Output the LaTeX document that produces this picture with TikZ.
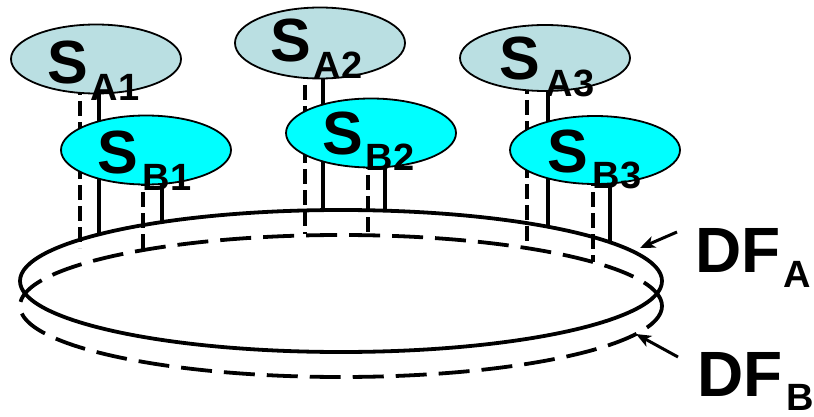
\documentclass[tikz,border=0pt]{standalone}
\usepackage{fontspec}
\setmainfont{Liberation Sans}
\usetikzlibrary{shapes.geometric,arrows.meta,calc}

\definecolor{paleteal}{HTML}{BADFE2}
\definecolor{brightcyan}{HTML}{00FFFF}

% heights of the two rings above a given x (pixel-like units, y grows downward)
\tikzset{
  declare function={
    ringAy(\t)=281-71*sqrt(1-((\t-341)/321)^2);
    ringBy(\t)=306-72*sqrt(1-((\t-341)/320)^2);
  },
  x=1pt, y=-1pt,
  sbase/.style={ellipse, draw, line width=1.8pt, inner sep=0pt,
                minimum width=170pt, minimum height=69pt},
  sA/.style={sbase, fill=paleteal},
  sB/.style={sbase, fill=brightcyan},
  ringsolid/.style={ellipse, draw, line width=3.8pt, inner sep=0pt,
                    minimum width=642pt, minimum height=142pt},
  ringdashed/.style={ringsolid, dash pattern=on 31pt off 12pt},
  link/.style={line width=3.8pt},
  dlink/.style={line width=3.8pt, dash pattern=on 15pt off 6pt},
  slab/.style={inner sep=0pt, anchor=base west,
               font=\fontsize{61}{61}\selectfont\bfseries},
  dflab/.style={inner sep=0pt, anchor=base west,
                font=\fontsize{64}{64}\selectfont\bfseries},
  pointer/.style={line width=3pt, -{Stealth[length=15pt,width=12pt,inset=4pt]}},
}
% subscript: text, gap before it, drop below the baseline
\newcommand\subtxt[3]{\kern#2\raisebox{-#3}{\fontsize{38}{38}\selectfont\bfseries #1}}

\begin{document}
\begin{tikzpicture}
\useasboundingbox (0,0) rectangle (814,417);

% the two rings
\node[ringdashed] (ringB) at (341,306) {};
\node[ringsolid]  (ringA) at (341,281) {};

% station centres
\path
  (96,59)   coordinate (cA1)
  (320,43)  coordinate (cA2)
  (545,58)  coordinate (cA3)
  (146,150) coordinate (cB1)
  (371,133) coordinate (cB2)
  (595,150) coordinate (cB3);

% drop points on the rings
\coordinate (dA1) at (80,248);
\coordinate (sA1) at (99,{ringAy(99)});
\coordinate (dB1) at (143,{ringBy(143)});
\coordinate (sB1) at (162,{ringAy(162)});
\coordinate (dA2) at (305,{ringBy(305)});
\coordinate (sA2) at (323,{ringAy(323)});
\coordinate (dB2) at (368,{ringBy(368)});
\coordinate (sB2) at (385,{ringAy(385)});
\coordinate (dA3) at (527,{ringBy(527)});
\coordinate (sA3) at (548,{ringAy(548)});
\coordinate (dB3) at (593,{ringBy(593)});
\coordinate (sB3) at (610,{ringAy(610)});

% drop lines from every station to the rings
\draw[dlink] (cA1 -| dA1) -- (dA1);
\draw[link]  (cA1 -| sA1) -- (sA1);
\draw[dlink] (cB1 -| dB1) -- (dB1);
\draw[link]  (cB1 -| sB1) -- (sB1);
\draw[dlink] (cA2 -| dA2) -- (dA2);
\draw[link]  (cA2 -| sA2) -- (sA2);
\draw[dlink] (cB2 -| dB2) -- (dB2);
\draw[link]  (cB2 -| sB2) -- (sB2);
\draw[dlink] (cA3 -| dA3) -- (dA3);
\draw[link]  (cA3 -| sA3) -- (sA3);
\draw[dlink] (cB3 -| dB3) -- (dB3);
\draw[link]  (cB3 -| sB3) -- (sB3);

% stations
\node[sA] (SA1) at (cA1) {};
\node[sA, minimum height=71pt] (SA2) at (cA2) {};
\node[sA, minimum height=66pt] (SA3) at (cA3) {};
\node[sB] (SB1) at (cB1) {};
\node[sB] (SB2) at (cB2) {};
\node[sB, minimum height=68pt] (SB3) at (cB3) {};

% station labels
\node[slab] (SA1t) at ($(SA1.center)+(-49,25)$) {S\subtxt{A1}{3pt}{17pt}};
\node[slab] (SA2t) at ($(SA2.center)+(-50,19)$) {S\subtxt{A2}{3pt}{17pt}};
\node[slab] (SA3t) at ($(SA3.center)+(-46,22)$) {S\subtxt{A3}{6pt}{17pt}};
\node[slab] (SB1t) at ($(SB1.center)+(-49,24)$) {S\subtxt{B1}{5pt}{17pt}};
\node[slab] (SB2t) at ($(SB2.center)+(-49,21)$) {S\subtxt{B2}{3pt}{17pt}};
\node[slab] (SB3t) at ($(SB3.center)+(-48,22)$) {S\subtxt{B3}{5pt}{17pt}};

% ring labels with pointers
\node[dflab] (DFA) at (695,272) {DF\subtxt{A}{3pt}{15pt}};
\node[dflab] (DFB) at (697,396) {DF\subtxt{B}{4pt}{14pt}};
\coordinate (DFAtail) at (677,232);
\coordinate (DFAtip)  at (640,248);
\coordinate (DFBtail) at (678,357);
\coordinate (DFBtip)  at (636,334);
\draw[pointer] (DFAtail) -- (DFAtip);
\draw[pointer] (DFBtail) -- (DFBtip);
\end{tikzpicture}
\end{document}
